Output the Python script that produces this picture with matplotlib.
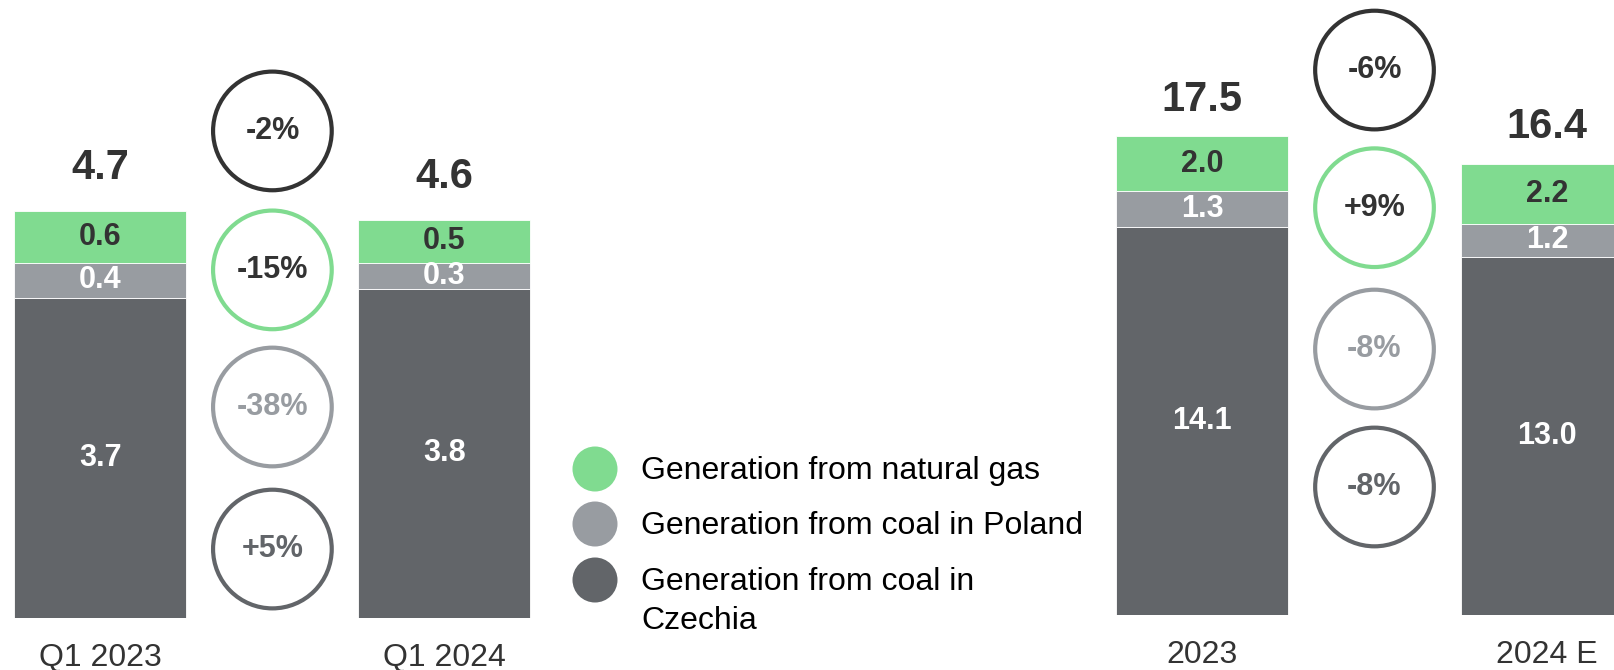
import matplotlib
matplotlib.use("Agg")
import matplotlib.pyplot as plt
import matplotlib.transforms as mtransforms

plt.rcParams['font.family'] = ['Liberation Sans', 'DejaVu Sans']

# --- data ---
q_labels = ['Q1 2023', 'Q1 2024']
q_coal_cz = [3.7, 3.8]
q_coal_pl = [0.4, 0.3]
q_gas = [0.6, 0.5]
q_total = [4.7, 4.6]
q_change = ['-2%', '-15%', '-38%', '+5%']

y_labels = ['2023', '2024 E']
y_coal_cz = [14.1, 13.0]
y_coal_pl = [1.3, 1.2]
y_gas = [2.0, 2.2]
y_total = [17.5, 16.4]
y_change = ['-6%', '+9%', '-8%', '-8%']

legend_labels = ['Generation from natural gas',
                 'Generation from coal in Poland',
                 'Generation from coal in\nCzechia']

GREEN = '#80db90'
GREY = '#989ca1'
DARK = '#626569'
TEXT = '#333333'

# circle styles: (edge colour, text colour), top to bottom = total, gas, PL, CZ
circle_style = [('#333333', TEXT), (GREEN, TEXT), (GREY, GREY), (DARK, DARK)]

W, H = 1614, 670
fig = plt.figure(figsize=(W / 100, H / 100), dpi=100)


def panel(rect_px, centers_px, base_px, px_per_unit):
    # rect_px: (left, right) in pixels, base_px: baseline from top
    left, right = rect_px
    spacing = centers_px[1] - centers_px[0]
    ax = fig.add_axes([left / W, (H - base_px) / H, (right - left) / W, base_px / H])
    ax.set_xlim((left - centers_px[0]) / spacing, (right - centers_px[0]) / spacing)
    ax.set_ylim(0, base_px / px_per_unit)
    ax.axis('off')
    return ax


def draw_stack(ax, labels, cz, pl, gas, totals, changes, circle_y, total_off):
    x = list(range(len(labels)))
    bw = 0.5
    pl_bottom = cz
    gas_bottom = [a + b for a, b in zip(cz, pl)]
    tops = [a + b for a, b in zip(gas_bottom, gas)]
    ax.bar(x, cz, bw, color=DARK, edgecolor='white', linewidth=0.6)
    ax.bar(x, pl, bw, bottom=pl_bottom, color=GREY, edgecolor='white', linewidth=0.6)
    ax.bar(x, gas, bw, bottom=gas_bottom, color=GREEN, edgecolor='white', linewidth=0.6)

    trans = mtransforms.blended_transform_factory(ax.transData, ax.transAxes)
    for i in x:
        ax.text(i, cz[i] / 2, f'{cz[i]:.1f}', ha='center', va='center',
                fontsize=22, fontweight='bold', color='white')
        ax.text(i, pl_bottom[i] + pl[i] / 2, f'{pl[i]:.1f}', ha='center', va='center',
                fontsize=22, fontweight='bold', color='white')
        ax.text(i, gas_bottom[i] + gas[i] / 2, f'{gas[i]:.1f}', ha='center', va='center',
                fontsize=22, fontweight='bold', color=TEXT)
        ax.annotate(f'{totals[i]:.1f}', (i, tops[i]), xytext=(0, total_off),
                    textcoords='offset points', ha='center', va='center',
                    fontsize=30, fontweight='bold', color=TEXT)
        ax.text(i, -0.041, labels[i], transform=trans, ha='center', va='top',
                fontsize=23, color=TEXT, clip_on=False)

    for (ec, tc), cy, txt in zip(circle_style, circle_y, changes):
        ax.scatter([0.5], [cy], s=7300, facecolors='none', edgecolors=ec,
                   linewidths=3, transform=trans, clip_on=False, zorder=3)
        ax.text(0.5, cy, txt, transform=trans, ha='center', va='center',
                fontsize=22, fontweight='bold', color=tc)


ax1 = panel((0, 560), (100.4, 444.4), 617.6, 86.5)
draw_stack(ax1, q_labels, q_coal_cz, q_coal_pl, q_gas, q_total, q_change,
           [0.788, 0.563, 0.341, 0.111], 31)

ax2 = panel((1050, 1614), (1202, 1547), 614.5, 27.5)
draw_stack(ax2, y_labels, y_coal_cz, y_coal_pl, y_gas, y_total, y_change,
           [0.886, 0.662, 0.432, 0.2075], 26)

# legend drawn by hand in pixel space
lax = fig.add_axes([0, 0, 1, 1])
lax.set_xlim(0, W)
lax.set_ylim(H, 0)
lax.axis('off')
for c, lab, yy in zip([GREEN, GREY, DARK], legend_labels, [469, 524, 580]):
    lax.scatter([595], [yy], s=1050, color=c, edgecolors='none')
    lax.text(641, yy - 13, lab, ha='left', va='top', fontsize=23, color='black',
             linespacing=1.4)

fig.savefig('out.png', dpi=100)
